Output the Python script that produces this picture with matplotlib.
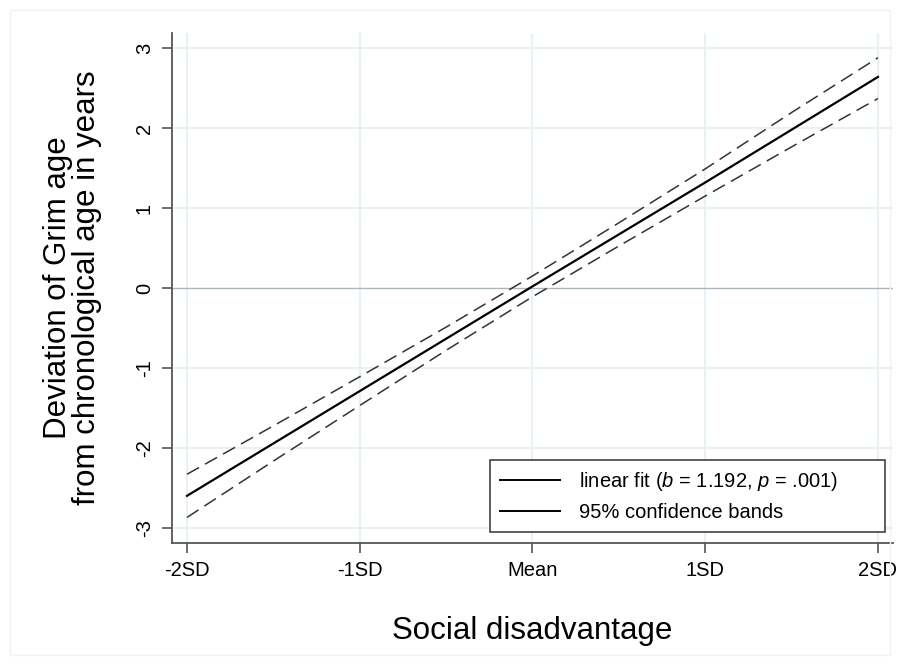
import numpy as np
import matplotlib
matplotlib.use("Agg")
import matplotlib.pyplot as plt
from matplotlib.lines import Line2D
from matplotlib.patches import Rectangle

plt.rcParams["font.family"] = ["Liberation Sans", "DejaVu Sans"]
plt.rcParams["mathtext.fontset"] = "custom"
plt.rcParams["mathtext.rm"] = "Liberation Sans"
plt.rcParams["mathtext.it"] = "Liberation Sans:italic"

# %%
# social disadvantage in SD units
sd_x = [-2.0, -1.5, -1.0, -0.5, 0.0, 0.5, 1.0, 1.5, 2.0]
fit_y = [-2.60, -1.945, -1.29, -0.635, 0.02, 0.67, 1.32, 1.98, 2.64]
upper_y = [-2.33, -1.725, -1.11, -0.49, 0.15, 0.815, 1.49, 2.195, 2.88]
lower_y = [-2.87, -2.165, -1.47, -0.78, -0.11, 0.525, 1.15, 1.765, 2.37]

x_ticks = [-2, -1, 0, 1, 2]
x_tick_labels = ["-2SD", "-1SD", "Mean", "1SD", "2SD"]
y_ticks = [-3, -2, -1, 0, 1, 2, 3]
legend_labels = [r"linear fit ($\mathit{b}$ = 1.192, $\mathit{p}$ = .001)",
                 "95% confidence bands"]

# %%
fig = plt.figure(figsize=(9.01, 6.65), dpi=100)
fig.patches.append(Rectangle((10 / 901, 10 / 665), 880 / 901, 645 / 665,
                             transform=fig.transFigure, fill=False,
                             edgecolor="#f0f3f5", linewidth=1))
ax = fig.add_axes([0.1909, 0.1835, 0.8002, 0.7669])

grid_color = "#e8f1f6"
for xt in x_ticks:
    ax.axvline(xt, color=grid_color, linewidth=1.5, zorder=0)
for yt in y_ticks:
    if yt != 0:
        ax.axhline(yt, color=grid_color, linewidth=1.5, zorder=0)
ax.axhline(0, color="#a9b8c0", linewidth=1, zorder=1)

ax.plot(sd_x, fit_y, color="black", linewidth=1.6, zorder=3)
ax.plot(sd_x, upper_y, color="#333333", linewidth=1.1, dashes=(9, 4.5), zorder=3)
ax.plot(sd_x, lower_y, color="#333333", linewidth=1.1, dashes=(9, 4.5), zorder=3)

ax.set_xlim(-2.087, 2.087)
ax.set_ylim(-3.19, 3.19)
ax.set_xticks(x_ticks)
ax.set_xticklabels(x_tick_labels)
ax.set_yticks(y_ticks)
ax.set_yticklabels([str(v) for v in y_ticks], rotation=90, va="center")

for side in ["top", "right"]:
    ax.spines[side].set_visible(False)
for side in ["left", "bottom"]:
    ax.spines[side].set_color("#555555")
    ax.spines[side].set_linewidth(1.3)
ax.tick_params(direction="out", length=7, width=1.2, color="#555555",
               labelsize=14.5, pad=6)

ax.set_xlabel("Social disadvantage", fontsize=22.5, labelpad=26)
ax.set_ylabel("Deviation of Grim age\nfrom chronological age in years",
              fontsize=22.5, labelpad=24, linespacing=0.95)

handles = [Line2D([0], [0], color="black", linewidth=1.4),
           Line2D([0], [0], color="black", linewidth=1.4)]
leg = ax.legend(handles, legend_labels, loc="lower left",
                bbox_to_anchor=(0.441, 0.0216, 0.548, 0.14),
                mode="expand", borderaxespad=0,
                fancybox=False, framealpha=1, edgecolor="#333333",
                fontsize=14.5, handlelength=3.0, handletextpad=0.9,
                borderpad=0.5, labelspacing=0.5)
leg.get_frame().set_linewidth(1.1)

fig.savefig("out.png", dpi=100)
